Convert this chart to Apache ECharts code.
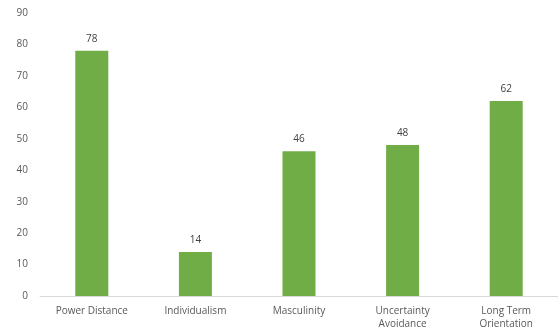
<!DOCTYPE html>
<html><head><meta charset="utf-8">
<script src="https://cdn.jsdelivr.net/npm/echarts@6/dist/echarts.min.js"></script>
<style>html,body{margin:0;padding:0;background:#fff;overflow:hidden}#c{width:558px;height:332px}</style>
</head><body><div id="c"></div>
<script>
const categories = ["Power Distance", "Individualism", "Masculinity", "Uncertainty\nAvoidance", "Long Term\nOrientation"];
const values = [78, 14, 46, 48, 62];
const yTicks = [0, 10, 20, 30, 40, 50, 60, 70, 80, 90];

const chart = echarts.init(document.getElementById('c'));
chart.setOption({
  animation: false,
  grid: {left: 40, right: -4, top: 13, bottom: 36},
  xAxis: {
    type: 'category', data: categories,
    axisLine: {lineStyle: {color: '#d9d9d9', width: 1}},
    axisTick: {show: false},
    axisLabel: {color: '#595959', fontSize: 10, fontFamily: 'Open Sans', margin: 9, lineHeight: 13, interval: 0}
  },
  yAxis: {
    type: 'value', min: yTicks[0], max: yTicks[yTicks.length-1], interval: 10,
    axisLine: {show: false}, axisTick: {show: false},
    splitLine: {show: false},
    axisLabel: {color: '#595959', fontSize: 10, fontFamily: 'Open Sans', margin: 12}
  },
  series: [{
    type: 'bar', data: values, barWidth: 33,
    itemStyle: {color: '#70AD47'},
    label: {show: true, position: 'top', color: '#404040', fontSize: 10, fontFamily: 'Open Sans', distance: 7}
  }]
});
</script></body></html>
